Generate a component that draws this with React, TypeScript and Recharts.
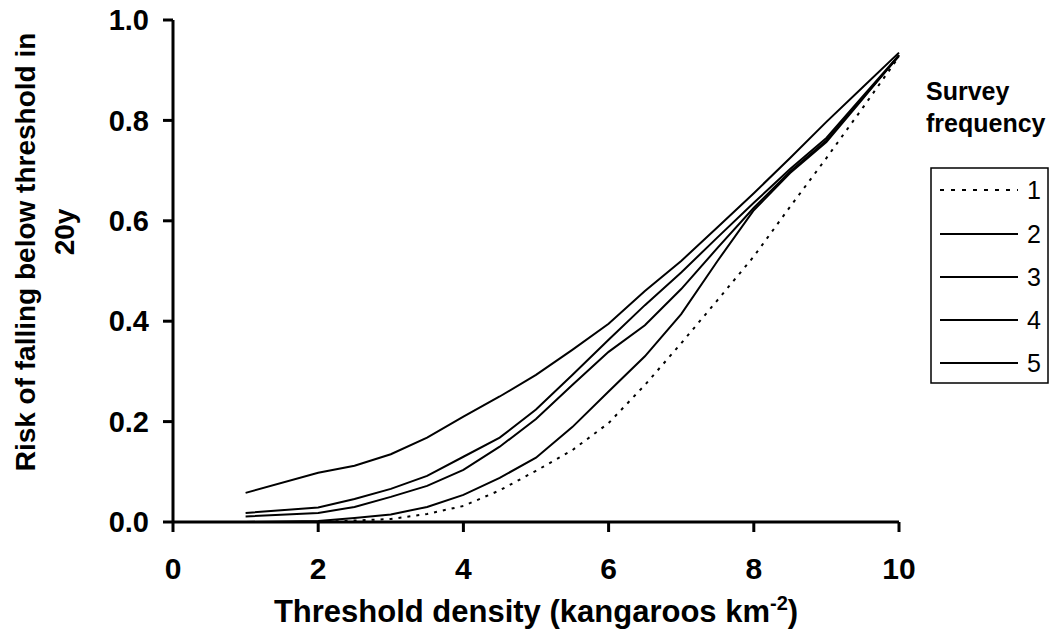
import React from "react";
import {
  LineChart,
  Line,
  XAxis,
  YAxis,
  Legend,
  Label,
} from "recharts";

const FONT = "'Liberation Sans', Arial, sans-serif";

// threshold density (kangaroos per km^2)
const thresholds = [1, 2, 2.5, 3, 3.5, 4, 4.5, 5, 5.5, 6, 6.5, 7, 7.5, 8, 8.5, 9, 9.5, 10];

// risk of falling below threshold in 20 years, one list per survey frequency
const freq1 = [0, 0, 0.003, 0.006, 0.016, 0.032, 0.063, 0.102, 0.143, 0.197, 0.273, 0.356, 0.442, 0.529, 0.628, 0.725, 0.825, 0.927];
const freq2 = [0, 0.002, 0.008, 0.015, 0.03, 0.054, 0.088, 0.128, 0.189, 0.26, 0.33, 0.414, 0.52, 0.621, 0.695, 0.757, 0.843, 0.93];
const freq3 = [0.011, 0.018, 0.03, 0.05, 0.072, 0.104, 0.15, 0.205, 0.273, 0.339, 0.392, 0.464, 0.546, 0.626, 0.698, 0.76, 0.845, 0.928];
const freq4 = [0.018, 0.029, 0.046, 0.066, 0.092, 0.13, 0.168, 0.224, 0.293, 0.363, 0.432, 0.497, 0.567, 0.636, 0.703, 0.765, 0.848, 0.93];
const freq5 = [0.058, 0.098, 0.112, 0.135, 0.168, 0.21, 0.25, 0.293, 0.343, 0.395, 0.46, 0.52, 0.587, 0.655, 0.725, 0.797, 0.866, 0.935];

const xTicks = [0, 2, 4, 6, 8, 10];
const yTicks = [0, 0.2, 0.4, 0.6, 0.8, 1.0];

const seriesList = [
  { key: "f1", name: "1", values: freq1, dash: "3 6" },
  { key: "f2", name: "2", values: freq2, dash: undefined },
  { key: "f3", name: "3", values: freq3, dash: undefined },
  { key: "f4", name: "4", values: freq4, dash: undefined },
  { key: "f5", name: "5", values: freq5, dash: undefined },
];

const data = thresholds.map((t, i) => {
  const row: Record<string, number> = { t };
  seriesList.forEach((s) => {
    row[s.key] = s.values[i];
  });
  return row;
});

function SurveyLegend() {
  const rowY = [190, 234, 277, 320, 363];
  return (
    <svg width={1055} height={632} style={{ display: "block" }}>
      <text x={926} y={100} fontFamily={FONT} fontWeight="bold" fontSize={25}>
        Survey
      </text>
      <text x={926} y={132} fontFamily={FONT} fontWeight="bold" fontSize={25}>
        frequency
      </text>
      <rect x={931} y={168} width={117} height={215} fill="#fff" stroke="#000" strokeWidth={1.5} />
      {seriesList.map((s, i) => (
        <g key={s.key}>
          <line
            x1={940}
            x2={1018}
            y1={rowY[i]}
            y2={rowY[i]}
            stroke="#000"
            strokeWidth={2}
            strokeDasharray={s.dash ? "4 7" : undefined}
          />
          <text
            x={1027}
            y={rowY[i]}
            dy="0.36em"
            fontFamily={FONT}
            fontSize={25}
          >
            {s.name}
          </text>
        </g>
      ))}
    </svg>
  );
}

function YTitle(props: any) {
  return (
    <g fontFamily={FONT} fontWeight="bold" fontSize={28} fill="#000">
      <text transform="translate(35,252) rotate(-90)" textAnchor="middle">
        Risk of falling below threshold in
      </text>
      <text transform="translate(74,232) rotate(-90)" textAnchor="middle">
        20y
      </text>
    </g>
  );
}

function XTitle(props: any) {
  return (
    <text
      x={536}
      y={622}
      textAnchor="middle"
      fontFamily={FONT}
      fontWeight="bold"
      fontSize={31}
      fill="#000"
    >
      Threshold density (kangaroos km
      <tspan dy={-12} fontSize={20}>-2</tspan>
      <tspan dy={12}>)</tspan>
    </text>
  );
}

export default function App() {
  return (
    <div style={{ position: "absolute", left: 0, top: 0, width: 1055, height: 632, background: "#fff" }}>
      <LineChart
        width={1055}
        height={632}
        data={data}
        margin={{ top: 20, right: 156, left: 93, bottom: 70 }}
      >
        <XAxis
          dataKey="t"
          type="number"
          domain={[0, 10]}
          ticks={xTicks}
          height={40}
          axisLine={{ stroke: "#000", strokeWidth: 3 }}
          tickLine={{ stroke: "#000", strokeWidth: 3 }}
          tickSize={10}
          tickMargin={26}
          tick={{ fill: "#000", fontSize: 30, fontWeight: "bold", fontFamily: FONT }}
        >
          <Label content={<XTitle />} />
        </XAxis>
        <YAxis
          type="number"
          domain={[0, 1]}
          ticks={yTicks}
          width={80}
          axisLine={{ stroke: "#000", strokeWidth: 3 }}
          tickLine={{ stroke: "#000", strokeWidth: 3 }}
          tickSize={10}
          tickMargin={14}
          tickFormatter={(v: number) => v.toFixed(1)}
          tick={{ fill: "#000", fontSize: 29, fontWeight: "bold", fontFamily: FONT }}
        >
          <Label content={<YTitle />} />
        </YAxis>
        <Legend
          layout="vertical"
          align="center"
          verticalAlign="middle"
          wrapperStyle={{ left: 0, top: 0, width: 1055, height: 632, pointerEvents: "none" }}
          content={<SurveyLegend />}
        />
        {seriesList.map((s) => (
          <Line
            key={s.key}
            type="linear"
            dataKey={s.key}
            name={s.name}
            stroke="#000"
            strokeWidth={2}
            strokeDasharray={s.dash}
            dot={false}
            activeDot={false}
            isAnimationActive={false}
          />
        ))}
      </LineChart>
    </div>
  );
}
